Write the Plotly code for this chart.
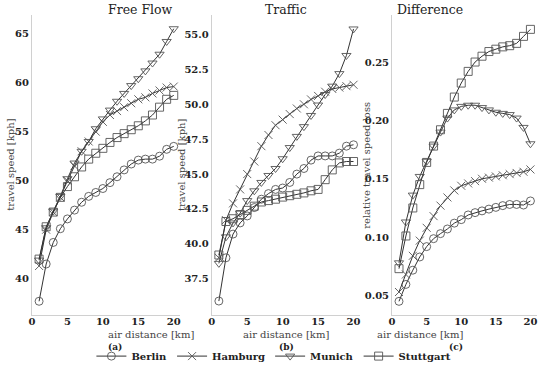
import plotly.graph_objects as go
from plotly.subplots import make_subplots

distance = list(range(1, 21))
cities = ["Berlin", "Hamburg", "Munich", "Stuttgart"]
symbols = {"Berlin": "circle-open", "Hamburg": "x-thin-open", "Munich": "triangle-down-open", "Stuttgart": "square-open"}

free_flow = {
    "Berlin": [37.7, 41.5, 43.7, 45.1, 46.1, 47.0, 47.8, 48.4, 48.8, 49.2, 49.8, 50.4, 51.1, 51.7, 52.1, 52.2, 52.2, 52.5, 53.2, 53.5],
    "Hamburg": [41.3, 45.0, 46.8, 48.3, 50.0, 51.5, 53.0, 54.0, 55.0, 56.0, 56.7, 57.1, 57.5, 57.9, 58.3, 58.5, 58.9, 59.2, 59.5, 59.6],
    "Munich": [41.9, 45.2, 46.9, 48.4, 50.2, 51.8, 53.0, 54.0, 55.3, 56.3, 57.2, 58.1, 58.9, 59.7, 60.4, 61.2, 62.0, 62.9, 64.2, 65.5],
    "Stuttgart": [42.0, 45.3, 46.8, 48.3, 49.4, 50.4, 51.4, 52.2, 52.8, 53.3, 53.9, 54.4, 54.8, 55.2, 55.6, 56.1, 56.7, 57.5, 58.3, 58.7],
}
traffic = {
    "Berlin": [35.9, 39.0, 40.7, 41.5, 42.0, 42.6, 43.2, 43.6, 43.9, 44.0, 44.4, 45.0, 45.4, 46.0, 46.3, 46.3, 46.3, 46.5, 47.0, 47.1],
    "Hamburg": [39.0, 41.7, 42.9, 43.9, 45.0, 45.9, 47.0, 47.8, 48.5, 48.9, 49.3, 49.7, 50.0, 50.35, 50.6, 50.9, 51.1, 51.2, 51.3, 51.4],
    "Munich": [38.6, 40.5, 41.5, 42.2, 43.1, 43.8, 44.4, 44.9, 45.4, 46.1, 46.9, 47.7, 48.4, 49.2, 49.95, 50.7, 51.3, 52.2, 53.5, 55.4],
    "Stuttgart": [39.2, 41.6, 41.8, 42.1, 42.4, 42.7, 43.0, 43.1, 43.2, 43.35, 43.45, 43.55, 43.65, 43.8, 43.9, 44.6, 45.3, 45.8, 45.9, 45.9],
}
difference = {
    "Berlin": [0.045, 0.0595, 0.0717, 0.083, 0.0919, 0.0987, 0.103, 0.107, 0.112, 0.115, 0.119, 0.121, 0.1225, 0.124, 0.1255, 0.127, 0.128, 0.128, 0.1275, 0.131],
    "Hamburg": [0.053, 0.068, 0.084, 0.097, 0.108, 0.118, 0.127, 0.134, 0.140, 0.144, 0.146, 0.148, 0.150, 0.151, 0.152, 0.153, 0.154, 0.155, 0.156, 0.158],
    "Munich": [0.078, 0.113, 0.136, 0.152, 0.165, 0.178, 0.190, 0.202, 0.209, 0.212, 0.213, 0.213, 0.211, 0.209, 0.207, 0.206, 0.205, 0.202, 0.194, 0.180],
    "Stuttgart": [0.073, 0.101, 0.125, 0.145, 0.164, 0.178, 0.192, 0.206, 0.220, 0.232, 0.242, 0.250, 0.255, 0.259, 0.261, 0.263, 0.264, 0.266, 0.272, 0.278],
}
panel_titles = ["Free Flow", "Traffic", "Difference"]
panel_letters = ["(a)", "(b)", "(c)"]
y_titles = ["travel speed [kph]", "travel speed [kph]", "relative travel speed loss"]
x_title = "air distance [km]"

SERIF = "DejaVu Serif"
domains = [(0.0, 0.294), (0.356, 0.650), (0.713, 1.0)]
ytitle_x = [-0.044, 0.295, 0.661]

fig = make_subplots(rows=1, cols=3)
for i, data in enumerate([free_flow, traffic, difference]):
    for c in cities:
        fig.add_trace(go.Scatter(
            x=distance, y=data[c], mode="lines+markers", name=c,
            showlegend=(i == 0), legendgroup=c,
            line=dict(color="#333333", width=1),
            marker=dict(symbol=symbols[c], size=8, color="#555555", line=dict(width=0.9, color="#555555")),
        ), row=1, col=i + 1)

axis_common = dict(showgrid=False, zeroline=False, showline=True, linecolor="#d0d0d0", linewidth=1,
                   ticks="", ticklen=0, automargin=False,
                   tickfont=dict(family=SERIF, size=10, color="#222222", weight="bold"))
yranges = [[36.3, 66.9], [34.9, 56.4], [0.0333, 0.2903]]
ytickvals = [[40, 45, 50, 55, 60, 65], [37.5, 40, 42.5, 45, 47.5, 50, 52.5, 55], [0.05, 0.10, 0.15, 0.20, 0.25]]
yfmts = ["d", ".1f", ".2f"]
label_font = dict(family=SERIF, size=10, color="#444444")
for i in range(3):
    xa = "xaxis" if i == 0 else f"xaxis{i+1}"
    ya = "yaxis" if i == 0 else f"yaxis{i+1}"
    fig.layout[xa].update(domain=domains[i], range=[0, 20.95], tickvals=[0, 5, 10, 15, 20],
                          ticklabelstandoff=-3, **axis_common)
    fig.layout[ya].update(range=yranges[i], tickvals=ytickvals[i], tickformat=yfmts[i], **axis_common)
    cx = (domains[i][0] + domains[i][1]) / 2
    fig.add_annotation(text=panel_titles[i], xref="paper", yref="paper", x=cx, y=1.017, yanchor="middle",
                       showarrow=False, font=dict(family=SERIF, size=12.5, color="#222222"))
    fig.add_annotation(text=x_title, xref="paper", yref="paper", x=cx, y=-0.065, yanchor="middle",
                       showarrow=False, font=label_font)
    fig.add_annotation(text=y_titles[i], xref="paper", yref="paper", x=ytitle_x[i], y=0.5,
                       xanchor="center", yanchor="middle", textangle=-90,
                       showarrow=False, font=label_font)
    fig.add_annotation(text=panel_letters[i], xref="paper", yref="paper", x=cx, y=-0.107, yanchor="middle",
                       showarrow=False, font=dict(family=SERIF, size=9, color="#222222", weight="bold"))

fig.update_layout(
    width=550, height=367,
    margin=dict(l=32, r=13, t=15, b=52, autoexpand=False),
    paper_bgcolor="white", plot_bgcolor="white",
    legend=dict(orientation="h", x=0.479, xanchor="center", y=-0.137, yanchor="middle",
                font=dict(family=SERIF, size=10, color="#222222", weight="bold"),
                itemwidth=30, tracegroupgap=0, bgcolor="rgba(0,0,0,0)"),
)

fig.write_html("out.html", config={"displayModeBar": False},
               post_script="document.body.style.margin='0';")
